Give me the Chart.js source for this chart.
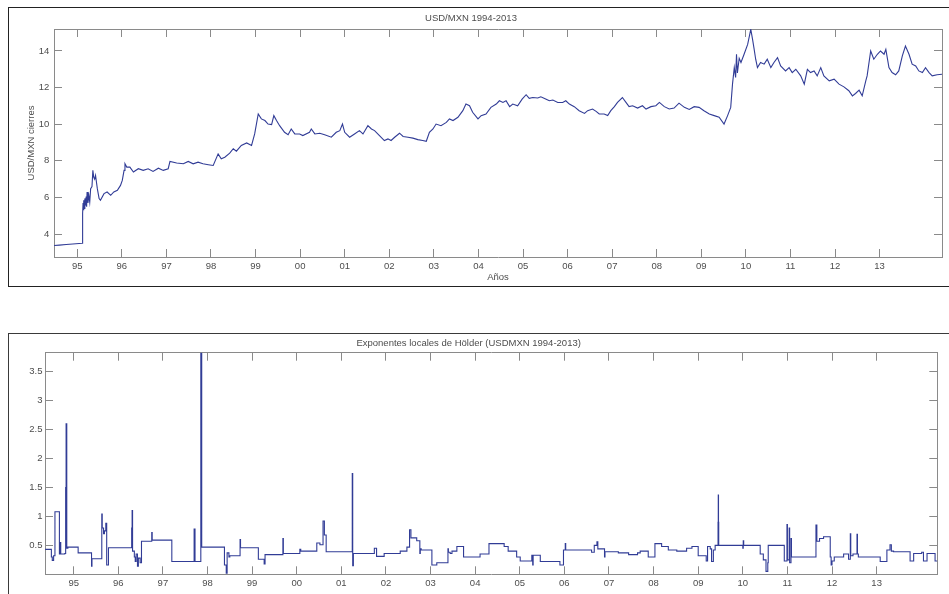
<!DOCTYPE html>
<html>
<head>
<meta charset="utf-8">
<script src="https://cdn.jsdelivr.net/npm/chart.js@4.4.0/dist/chart.umd.min.js"></script>
<style>
  html, body { margin: 0; padding: 0; background: #fff; overflow: hidden; }
  body { width: 949px; height: 594px; position: relative; }
  .frame { position: absolute; box-sizing: border-box; }
  #frameTop { left: 8px; top: 7px; width: 1000px; height: 280px; border: 1.5px solid #222; }
  #frameBottom { left: 8px; top: 333px; width: 1000px; height: 300px; border: 1.5px solid #3a3a3a; }
  canvas { position: absolute; left: 0; }
  #usdChart { top: 0; }
  #holderChart { top: 330px; }
</style>
</head>
<body>
<div class="frame" id="frameTop"></div>
<div class="frame" id="frameBottom"></div>
<canvas id="usdChart" width="949" height="300"></canvas>
<canvas id="holderChart" width="949" height="264"></canvas>
<script>
// USD/MXN closing rate (x = year)
const usdYears = [
  1994.48, 1994.60, 1994.75, 1994.90, 1995.11,
  1995.12, 1995.13, 1995.14, 1995.15, 1995.16, 1995.17, 1995.18, 1995.20, 1995.21, 1995.22, 1995.24, 1995.26, 1995.28, 1995.30, 1995.33, 1995.35, 1995.37, 1995.39, 1995.41, 1995.45, 1995.49, 1995.52, 1995.60, 1995.67, 1995.75, 1995.82, 1995.90, 1995.97,
  1996.01, 1996.05, 1996.07, 1996.11, 1996.18, 1996.26, 1996.37, 1996.48, 1996.59, 1996.70, 1996.82, 1996.93,
  1997.04, 1997.08, 1997.23, 1997.38, 1997.49, 1997.60, 1997.71, 1997.82, 1997.94,
  1998.05, 1998.16, 1998.23, 1998.31, 1998.42, 1998.50, 1998.57, 1998.68, 1998.80, 1998.91, 1998.98,
  1999.06, 1999.13, 1999.21, 1999.28, 1999.36, 1999.41, 1999.47, 1999.54, 1999.65, 1999.73, 1999.80, 1999.88, 1999.99,
  2000.06, 2000.21, 2000.25, 2000.33, 2000.44, 2000.55, 2000.70, 2000.81, 2000.89, 2000.95,
  2001.00, 2001.11, 2001.22, 2001.33, 2001.41, 2001.52, 2001.60, 2001.67, 2001.78, 2001.89, 2001.97,
  2002.04, 2002.12, 2002.23, 2002.31, 2002.42, 2002.53, 2002.64, 2002.75, 2002.83, 2002.90, 2002.98,
  2003.05, 2003.16, 2003.28, 2003.35, 2003.43, 2003.54, 2003.65, 2003.72, 2003.80, 2003.87, 2003.99,
  2004.06, 2004.17, 2004.28, 2004.40, 2004.47, 2004.55, 2004.62, 2004.70, 2004.77, 2004.88, 2004.98,
  2005.07, 2005.14, 2005.22, 2005.33, 2005.40, 2005.52, 2005.59, 2005.67, 2005.78, 2005.89, 2005.96,
  2006.04, 2006.15, 2006.26, 2006.38, 2006.45, 2006.56, 2006.64, 2006.71, 2006.82, 2006.90, 2006.97,
  2007.05, 2007.12, 2007.23, 2007.31, 2007.38, 2007.46, 2007.57, 2007.68, 2007.76, 2007.87, 2007.98,
  2008.06, 2008.17, 2008.28, 2008.39, 2008.50, 2008.62, 2008.73, 2008.84, 2008.95,
  2009.06, 2009.18, 2009.29, 2009.40, 2009.51, 2009.59, 2009.66, 2009.70, 2009.74, 2009.77, 2009.79, 2009.81, 2009.85, 2009.89, 2009.96,
  2010.04, 2010.11, 2010.15, 2010.18, 2010.22, 2010.26, 2010.33, 2010.41, 2010.48, 2010.56, 2010.63, 2010.71, 2010.78, 2010.89, 2010.97,
  2011.04, 2011.12, 2011.23, 2011.31, 2011.38, 2011.45, 2011.53, 2011.60, 2011.68, 2011.75, 2011.87, 2011.98,
  2012.09, 2012.20, 2012.31, 2012.39, 2012.46, 2012.54, 2012.61, 2012.69, 2012.72, 2012.80, 2012.87, 2012.95,
  2013.02, 2013.10, 2013.14, 2013.21, 2013.28, 2013.36, 2013.43, 2013.51, 2013.58, 2013.66, 2013.73, 2013.81, 2013.88, 2013.96,
  2014.03, 2014.11, 2014.18, 2014.29, 2014.40
];
const usdClose = [
  3.38, 3.40, 3.43, 3.46, 3.50,
  5.12, 5.70, 5.30, 5.85, 5.40, 5.95, 5.55, 6.05, 5.50, 6.30, 5.70, 6.10, 5.75, 6.48, 6.60, 7.48, 7.10, 7.00, 7.20, 6.48, 5.94, 5.85, 6.21, 6.30, 6.12, 6.30, 6.39, 6.66,
  6.93, 7.48, 7.84, 7.66, 7.66, 7.39, 7.57, 7.48, 7.57, 7.42, 7.60, 7.48,
  7.57, 7.97, 7.88, 7.84, 7.97, 7.84, 7.93, 7.84, 7.79,
  7.75, 8.38, 8.11, 8.20, 8.42, 8.66, 8.53, 8.84, 8.98, 8.84, 9.47,
  10.56, 10.29, 10.20, 10.01, 9.98, 10.47, 10.20, 9.92, 9.56, 9.43, 9.74, 9.47, 9.47,
  9.38, 9.56, 9.74, 9.47, 9.51, 9.42, 9.29, 9.56, 9.65, 10.01,
  9.56, 9.29, 9.47, 9.65, 9.47, 9.92, 9.74, 9.65, 9.38, 9.11, 9.20,
  9.11, 9.29, 9.51, 9.33, 9.29, 9.24, 9.16, 9.11, 9.07, 9.56, 9.74,
  10.01, 9.92, 10.10, 10.29, 10.20, 10.38, 10.74, 11.10, 11.01, 10.65, 10.29,
  10.47, 10.56, 10.92, 11.10, 11.28, 11.19, 11.28, 10.96, 11.10, 11.01, 11.37,
  11.61, 11.41, 11.46, 11.43, 11.50, 11.37, 11.28, 11.32, 11.19, 11.19, 11.28,
  11.10, 10.96, 10.74, 10.59, 10.74, 10.83, 10.70, 10.56, 10.56, 10.47, 10.74,
  10.96, 11.19, 11.46, 11.19, 10.96, 11.01, 10.88, 11.01, 10.83, 10.96, 11.01,
  11.19, 10.96, 10.83, 10.88, 11.15, 10.92, 10.81, 10.96, 10.92,
  10.74, 10.56, 10.47, 10.38, 10.01, 10.47, 10.92, 12.19, 13.09, 12.55, 13.82, 12.80, 13.60, 13.37, 13.82,
  14.36, 15.18, 14.63, 14.18, 13.55, 13.09, 13.37, 13.28, 13.55, 13.09, 13.37, 13.64, 13.18, 12.91, 13.09,
  12.82, 13.00, 12.64, 12.19, 13.00, 12.82, 12.91, 12.64, 13.09, 12.64, 12.37, 12.46,
  12.19, 12.04, 11.83, 11.55, 11.68, 11.86, 11.55, 12.37, 12.64, 14.00, 13.55, 13.82,
  14.00, 13.82, 14.09, 13.09, 12.82, 12.70, 12.91, 13.73, 14.27, 13.82, 13.28, 13.18, 12.91, 12.82,
  13.09, 12.82, 12.64, 12.70, 12.73
];

// Local Hölder exponents: each value holds from its year until the next one
const holderYears = [
  1994.36, 1994.50, 1994.52, 1994.55, 1994.58, 1994.68, 1994.70, 1994.71, 1994.80, 1994.82, 1994.83, 1994.845, 1994.87,
  1995.10, 1995.40, 1995.41, 1995.63, 1995.64, 1995.67, 1995.69, 1995.72, 1995.74, 1995.78,
  1996.30, 1996.31, 1996.32, 1996.36, 1996.38, 1996.40, 1996.43, 1996.45, 1996.49, 1996.52, 1996.75, 1996.76,
  1997.20, 1997.70, 1997.72, 1997.85, 1997.87,
  1998.38, 1998.42, 1998.44, 1998.48, 1998.50, 1998.73, 1998.74,
  1999.14, 1999.27, 1999.29, 1999.69, 1999.70,
  2000.07, 2000.09, 2000.45, 2000.52, 2000.59, 2000.62, 2000.66,
  2001.245, 2001.255, 2001.27, 2001.74, 2001.79, 2001.96,
  2002.32, 2002.47, 2002.53, 2002.56, 2002.69, 2002.76, 2002.77, 2002.79,
  2003.03, 2003.14, 2003.39, 2003.40, 2003.44, 2003.48, 2003.59, 2003.74,
  2004.11, 2004.31, 2004.65, 2004.74, 2004.93,
  2005.01, 2005.27, 2005.29, 2005.30, 2005.46, 2005.90, 2005.98,
  2006.02, 2006.03, 2006.61, 2006.67, 2006.73, 2006.75, 2006.90, 2006.91,
  2007.21, 2007.44, 2007.64, 2007.70, 2007.88,
  2008.03, 2008.18, 2008.33, 2008.52, 2008.74, 2008.86,
  2009.00, 2009.18, 2009.21, 2009.27, 2009.30, 2009.34, 2009.38, 2009.445, 2009.45, 2009.455, 2009.46,
  2010.00, 2010.01, 2010.02, 2010.39, 2010.46, 2010.52, 2010.56, 2010.57, 2010.93, 2010.99,
  2011.00, 2011.04, 2011.05, 2011.08, 2011.09, 2011.64, 2011.66, 2011.72, 2011.81, 2011.96, 2011.98,
  2012.00, 2012.05, 2012.26, 2012.37, 2012.41, 2012.42, 2012.47, 2012.56, 2012.57, 2012.59,
  2013.08, 2013.23, 2013.30, 2013.33, 2013.38, 2013.75, 2013.83,
  2014.01, 2014.05, 2014.13, 2014.31, 2014.36
];
const holderExp = [
  0.43, 0.30, 0.24, 0.32, 1.08, 0.35, 0.55, 0.35, 0.36, 1.50, 2.60, 0.45, 0.47,
  0.37, 0.14, 0.27, 1.04, 0.80, 0.70, 0.75, 0.88, 0.16, 0.46,
  0.80, 1.10, 0.40, 0.30, 0.22, 0.35, 0.14, 0.28, 0.20, 0.57, 0.72, 0.59,
  0.22, 0.78, 0.22, 3.83, 0.47,
  0.16, 0.02, 0.37, 0.30, 0.32, 0.60, 0.46,
  0.26, 0.18, 0.34, 0.62, 0.36,
  0.43, 0.40, 0.54, 0.51, 0.92, 0.68, 0.39,
  1.74, 0.15, 0.36, 0.45, 0.31, 0.36,
  0.40, 0.47, 0.77, 0.63, 0.58, 0.36, 0.44, 0.42,
  0.16, 0.20, 0.44, 0.38, 0.36, 0.40, 0.48, 0.30,
  0.35, 0.53, 0.48, 0.40, 0.30,
  0.23, 0.33, 0.16, 0.33, 0.22, 0.16, 0.42,
  0.53, 0.42, 0.38, 0.50, 0.56, 0.44, 0.30, 0.39,
  0.37, 0.34, 0.37, 0.40, 0.30,
  0.53, 0.48, 0.42, 0.40, 0.45, 0.48,
  0.32, 0.23, 0.48, 0.44, 0.22, 0.42, 0.50, 0.90, 1.37, 0.90, 0.50,
  0.45, 0.58, 0.50, 0.35, 0.25, 0.05, 0.20, 0.50, 0.23, 0.86,
  0.25, 0.80, 0.20, 0.62, 0.30, 0.85, 0.57, 0.62, 0.65, 0.30, 0.16,
  0.23, 0.30, 0.35, 0.26, 0.70, 0.32, 0.35, 0.69, 0.35, 0.30,
  0.22, 0.42, 0.51, 0.40, 0.39, 0.23, 0.36,
  0.38, 0.23, 0.36, 0.23, 0.23
];

const yearTicks = [1995, 1996, 1997, 1998, 1999, 2000, 2001, 2002, 2003, 2004, 2005, 2006, 2007, 2008, 2009, 2010, 2011, 2012, 2013];
const yearLabels = ['95', '96', '97', '98', '99', '00', '01', '02', '03', '04', '05', '06', '07', '08', '09', '10', '11', '12', '13'];
const usdTicks = [4, 6, 8, 10, 12, 14];
const usdTickLabels = ['4', '6', '8', '10', '12', '14'];
const holderTicks = [0.5, 1, 1.5, 2, 2.5, 3, 3.5];
const holderTickLabels = ['0.5', '1', '1.5', '2', '2.5', '3', '3.5'];

const lineBlue = '#313c96';
const axisGray = '#8a8a8a';
const textGray = '#4d4d4d';
const font = { family: '"Liberation Sans", Arial, sans-serif', size: 9.5, weight: 'normal' };

function setTicks(values) {
  return scale => { scale.ticks = values.map(v => ({ value: v })); };
}
function fixHeight(h) { return scale => { scale.height = h; }; }
function fixWidth(w) { return scale => { scale.width = w; }; }

// one inward-ticked axis, MATLAB style
function axis(position, min, max, ticks, labels, size, labelPad, title) {
  const horizontal = position === 'top' || position === 'bottom';
  return {
    type: 'linear',
    position: position,
    min: min,
    max: max,
    afterBuildTicks: setTicks(ticks),
    afterFit: horizontal ? fixHeight(size) : fixWidth(size),
    grid: { drawOnChartArea: false, tickLength: -8, color: axisGray, lineWidth: 1 },
    border: { display: true, color: axisGray, width: 1 },
    ticks: {
      display: !!labels,
      autoSkip: false,
      maxRotation: 0,
      padding: labelPad,
      color: textGray,
      font: font,
      callback: (v, i) => labels ? labels[i] : ''
    },
    title: title || { display: false }
  };
}

const common = {
  responsive: false,
  animation: false,
  events: [],
  plugins: { legend: { display: false }, tooltip: { enabled: false } }
};

// top: exchange rate
new Chart(document.getElementById('usdChart'), {
  type: 'line',
  data: {
    datasets: [{
      data: usdYears.map((x, i) => ({ x: x, y: usdClose[i] })),
      borderColor: lineBlue,
      borderWidth: 1.1,
      pointRadius: 0,
      tension: 0
    }]
  },
  options: {
    ...common,
    layout: { padding: { left: 0, right: 7, top: 0, bottom: 13 } },
    plugins: {
      ...common.plugins,
      title: { display: true, text: 'USD/MXN 1994-2013', color: textGray, font: font, padding: { top: 12.6, bottom: 5 } }
    },
    scales: {
      x: axis('bottom', 1994.478, 2014.40, yearTicks, yearLabels, 30, 12,
        { display: true, text: 'Años', color: textGray, font: font, padding: { top: 0, bottom: 3.8 } }),
      xTop: axis('top', 1994.478, 2014.40, yearTicks, null, 0, 0),
      y: axis('left', 2.75, 15.2, usdTicks, usdTickLabels, 54, 12.7,
        { display: true, text: 'USD/MXN cierres', color: textGray, font: font, padding: { top: 26, bottom: 0 } }),
      yRight: axis('right', 2.75, 15.2, usdTicks, null, 0, 0)
    }
  }
});

// bottom: local Hölder exponents
new Chart(document.getElementById('holderChart'), {
  type: 'line',
  data: {
    datasets: [{
      data: holderYears.map((x, i) => ({ x: x, y: holderExp[i] })),
      borderColor: lineBlue,
      borderWidth: 1.1,
      pointRadius: 0,
      stepped: true
    }]
  },
  options: {
    ...common,
    layout: { padding: { left: 0, right: 11.7, top: 0, bottom: 0 } },
    plugins: {
      ...common.plugins,
      title: { display: true, text: 'Exponentes locales de Hölder (USDMXN 1994-2013)', color: textGray, font: font, padding: { top: 7.8, bottom: 3.5 } }
    },
    scales: {
      x: axis('bottom', 1994.357, 2014.36, yearTicks, yearLabels, 19.7, 11.3),
      xTop: axis('top', 1994.357, 2014.36, yearTicks, null, 0, 0),
      y: axis('left', 0, 3.83, holderTicks, holderTickLabels, 45, 10.5),
      yRight: axis('right', 0, 3.83, holderTicks, null, 0, 0)
    }
  }
});
</script>
</body>
</html>
